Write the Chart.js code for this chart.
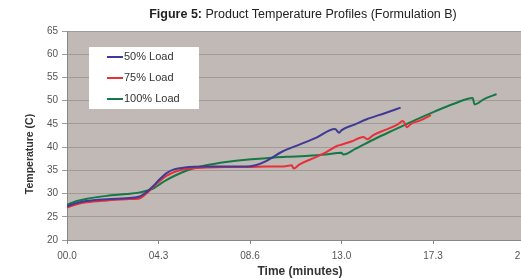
<!DOCTYPE html>
<html>
<head>
<meta charset="utf-8">
<script src="https://cdn.jsdelivr.net/npm/chart.js@4"></script>
<style>
  body { margin: 0; overflow: hidden; background: #fff; font-family: "Liberation Sans", Arial, sans-serif; }
  #wrap { position: relative; width: 545px; height: 279px; }
  #title { position: absolute; top: 7px; left: 0; width: 606px; text-align: center; font-size: 12.5px; color: #222; }
</style>
</head>
<body>
<div id="wrap">
  <div id="title"><b>Figure 5:</b> Product Temperature Profiles (Formulation B)</div>
  <canvas id="myChart" width="545" height="279"></canvas>
</div>
<script>
  // nama seri + warna
  const seriesLabels = ["50% Load", "75% Load", "100% Load"];
  const seriesColors = ["rgb(62, 58, 150)", "rgb(232, 48, 58)", "rgb(22, 120, 70)"];

  // 50% load
  const time50 = [0, 0.5, 0.9, 1.9, 2.8, 3.4, 3.75, 4.05, 4.4, 4.7, 5.05, 5.55, 6.55, 7.5, 8.45, 8.9, 9.4, 10.15, 11.0, 11.75, 12.65, 12.85, 12.95, 13.6, 14.15, 15.0, 15.75];
  const temp50 = [27.3, 28.0, 28.4, 28.8, 29.0, 29.3, 30.3, 31.5, 33.2, 34.4, 35.2, 35.6, 35.8, 35.8, 35.8, 36.1, 37.0, 39.0, 40.6, 42.0, 43.9, 43.1, 43.6, 44.9, 46.0, 47.3, 48.5];

  // 75% load
  const time75 = [0, 0.47, 0.94, 1.88, 2.82, 3.38, 3.75, 4.04, 4.41, 4.69, 5.16, 5.63, 6.57, 7.51, 8.45, 9.39, 10.33, 10.61, 10.7, 10.98, 11.73, 12.2, 12.77, 12.95, 13.42, 13.99, 14.17, 14.46, 15.02, 15.58, 15.86, 16.05, 16.24, 16.71, 17.18];
  const temp75 = [27.0, 27.7, 28.1, 28.5, 28.8, 28.9, 30.0, 31.3, 32.8, 33.8, 34.8, 35.3, 35.6, 35.7, 35.7, 35.8, 35.9, 36.1, 35.4, 36.3, 37.8, 38.8, 40.3, 40.5, 41.2, 42.2, 41.7, 42.6, 43.7, 44.8, 45.6, 44.3, 45.0, 45.8, 46.9];

  // 100% load
  const time100 = [0, 0.47, 0.94, 1.88, 2.82, 3.38, 3.75, 4.04, 4.41, 4.69, 5.16, 5.63, 6.1, 6.57, 7.51, 8.45, 9.39, 10.33, 11.26, 12.2, 12.95, 13.05, 13.61, 14.55, 15.49, 16.43, 17.37, 18.3, 19.15, 19.24, 19.71, 20.28];
  const temp100 = [27.6, 28.4, 28.9, 29.5, 29.9, 30.2, 30.6, 31.0, 32.1, 32.9, 34.0, 34.9, 35.6, 36.1, 36.8, 37.3, 37.6, 37.9, 38.1, 38.4, 38.8, 38.4, 39.6, 41.8, 43.8, 45.8, 47.7, 49.4, 50.6, 49.2, 50.4, 51.4];

  // tick sumbu x (menit)
  const xTicks = [0, 4.32, 8.64, 12.96, 17.28, 21.6];

  const toPoints = (ts, vs) => ts.map((t, i) => ({ x: t, y: vs[i] }));
  const times = [time50, time75, time100];
  const temps = [temp50, temp75, temp100];

  const data = {
    datasets: seriesLabels.map((label, i) => ({
      label: label,
      data: toPoints(times[i], temps[i]),
      borderColor: seriesColors[i],
      borderWidth: 2,
      pointRadius: 0,
      cubicInterpolationMode: "monotone",
      fill: false,
    })),
  };

  // warna latar area plot
  const plotBg = {
    id: "plotBg",
    beforeDraw(chart) {
      const { ctx, chartArea: a } = chart;
      ctx.save();
      ctx.fillStyle = "#c1b9b5";
      ctx.fillRect(a.left, a.top, a.right - a.left, a.bottom - a.top);
      ctx.restore();
    },
  };

  // legend kotak putih di dalam plot
  const boxLegend = {
    id: "boxLegend",
    afterDatasetsDraw(chart) {
      const { ctx, chartArea: a } = chart;
      const x0 = a.left + 22, y0 = a.top + 16;
      ctx.save();
      ctx.fillStyle = "#fff";
      ctx.fillRect(x0, y0, 110, 62);
      ctx.font = '11px "Liberation Sans", Arial, sans-serif';
      ctx.textBaseline = "middle";
      chart.data.datasets.forEach((ds, i) => {
        const y = y0 + 10 + i * 21;
        ctx.strokeStyle = ds.borderColor;
        ctx.lineWidth = 2;
        ctx.beginPath();
        ctx.moveTo(x0 + 18, y);
        ctx.lineTo(x0 + 34, y);
        ctx.stroke();
        ctx.fillStyle = "#333";
        ctx.fillText(ds.label, x0 + 35, y);
      });
      ctx.restore();
    },
  };

  // judul sumbu y
  const yTitle = {
    id: "yTitle",
    afterDraw(chart) {
      const ctx = chart.ctx;
      ctx.save();
      ctx.translate(30, 154);
      ctx.rotate(-Math.PI / 2);
      ctx.font = 'bold 10.5px "Liberation Sans", Arial, sans-serif';
      ctx.fillStyle = "#333";
      ctx.textAlign = "center";
      ctx.textBaseline = "middle";
      ctx.fillText("Temperature (C)", 0, 0);
      ctx.restore();
    },
  };

  const config = {
    type: "line",
    data: data,
    options: {
      responsive: false,
      animation: false,
      layout: { padding: { top: 31, right: 12, left: 0, bottom: 0 } },
      plugins: {
        legend: { display: false },
        tooltip: { enabled: false },
      },
      scales: {
        x: {
          type: "linear",
          min: 0,
          max: 22.0,
          afterBuildTicks: (scale) => {
            scale.ticks = xTicks.map((v) => ({ value: v }));
          },
          afterFit: (scale) => {
            scale.height = 39;
          },
          ticks: {
            color: "#555",
            font: { family: "Liberation Sans", size: 10 },
            padding: 6,
            maxRotation: 0,
            callback: (v) => v.toFixed(1).padStart(4, "0"),
          },
          grid: { drawOnChartArea: false, tickLength: 4, color: "#888" },
          border: { color: "#888" },
          title: {
            display: true,
            text: "Time (minutes)",
            color: "#333",
            font: { family: "Liberation Sans", size: 12, weight: "bold" },
            padding: { top: 0, bottom: 0 },
          },
        },
        y: {
          min: 20,
          max: 65,
          afterFit: (scale) => {
            scale.width = 67;
          },
          ticks: {
            stepSize: 5,
            color: "#555",
            font: { family: "Liberation Sans", size: 10 },
            padding: 4,
          },
          grid: { color: "#a29a96", tickLength: 5 },
          border: { color: "#888" },
        },
      },
    },
    plugins: [plotBg, boxLegend, yTitle],
  };

  const myChart = new Chart(document.getElementById("myChart"), config);
</script>
</body>
</html>
